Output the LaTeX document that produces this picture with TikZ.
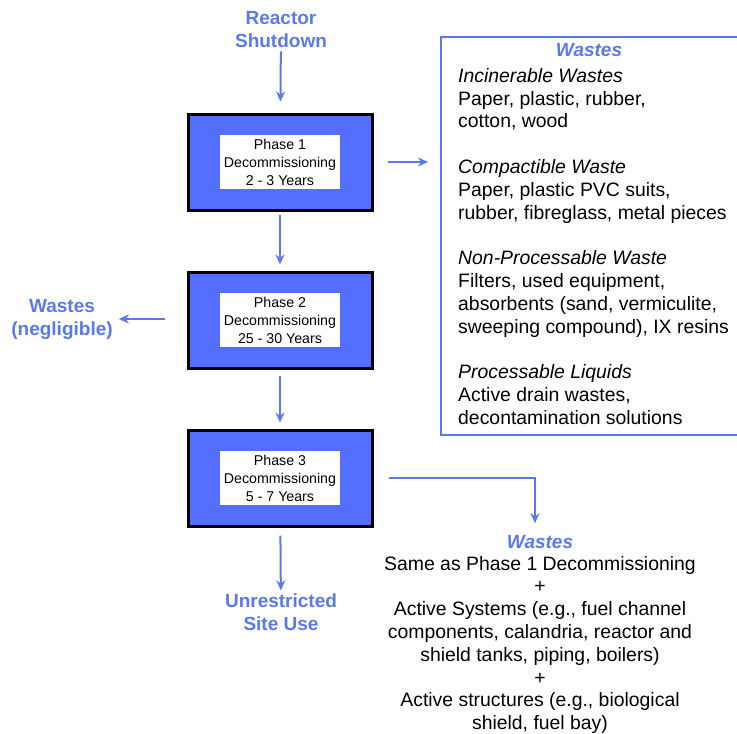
\documentclass[tikz,border=0pt]{standalone}
\usepackage{fontspec}
\setmainfont{Liberation Sans}
\usetikzlibrary{arrows.meta,positioning,calc}
\definecolor{phaseblue}{RGB}{84,110,255}
\definecolor{txtblue}{RGB}{90,120,242}
\begin{document}
\begin{tikzpicture}[x=1pt, y=-1pt,
  phase/.style={draw=black, line width=3pt, fill=phaseblue, minimum width=184pt, minimum height=96pt},
  phasetxt/.style={fill=white, minimum width=120pt, minimum height=54pt, align=center, inner sep=0pt,
    font=\fontsize{14.2}{18}\selectfont},
  lbl/.style={text=txtblue, align=center, inner sep=1pt, font=\bfseries\fontsize{19}{23}\selectfont},
  body/.style={inner sep=0pt, font=\fontsize{19.4}{22.8}\selectfont},
  arr/.style={-{Stealth[length=10pt, width=9pt]}, line width=2pt, draw=txtblue}]
\useasboundingbox (0,0) rectangle (737,734);
% main line
\node[lbl] (start) at (281,30) {Reactor\\Shutdown};
\node[phase] (p1) at (280,162) {};
\node[phasetxt] (p1t) at (p1) {Phase 1\\Decommissioning\\2 - 3 Years};
\node[phase] (p2) at (280,320) {};
\node[phasetxt] (p2t) at (p2) {Phase 2\\Decommissioning\\25 - 30 Years};
\node[phase] (p3) at (280,478) {};
\node[phasetxt] (p3t) at (p3) {Phase 3\\Decommissioning\\5 - 7 Years};
\node[lbl] (end) at (281,612) {Unrestricted\\Site Use};
\draw[arr, shorten <=2pt, shorten >=11pt] (start) -- (p1);
\draw[arr, shorten <=3pt, shorten >=6pt] (p1) -- (p2);
\draw[arr, shorten <=6pt, shorten >=6pt] (p2) -- (p3);
\draw[arr, shorten <=8pt, shorten >=2pt] (p3) -- (end);
% negligible wastes
\node[lbl] (neg) at (62,319) {Wastes\\(negligible)};
\draw[arr, shorten <=22pt, shorten >=5pt] (p2.west |- neg) -- (neg);
% phase 1 wastes
\node[draw=txtblue, line width=1.5pt, anchor=north west, minimum width=330pt, minimum height=398pt] (wbox) at (440,36) {};
\node[lbl, font=\bfseries\itshape\fontsize{19}{23}\selectfont] (wh) at (589,50) {Wastes};
\node[body, anchor=north west, align=left] (wlist) at (458,68) {%
\textit{Incinerable Wastes}\\
Paper, plastic, rubber,\\
cotton, wood\\[22.8pt]
\textit{Compactible Waste}\\
Paper, plastic PVC suits,\\
rubber, fibreglass, metal pieces\\[22.8pt]
\textit{Non-Processable Waste}\\
Filters, used equipment,\\
absorbents (sand, vermiculite,\\
sweeping compound), IX resins\\[22.8pt]
\textit{Processable Liquids}\\
Active drain wastes,\\
decontamination solutions};
\draw[arr, shorten <=14pt, shorten >=12pt] (p1.east) -- (p1 -| wbox.west);
% phase 3 wastes
\node[lbl, font=\bfseries\itshape\fontsize{19}{23}\selectfont] (bwh) at (540,542) {Wastes};
\node[body, below=6pt of bwh, align=center] (bwl) {%
Same as Phase 1 Decommissioning\\
+\\
Active Systems (e.g., fuel channel\\
components, calandria, reactor and\\
shield tanks, piping, boilers)\\
+\\
Active structures (e.g., biological\\
shield, fuel bay)};
\draw[arr, shorten <=15pt, shorten >=11pt] (p3.east) -| ([xshift=-5pt]bwh.north);
\end{tikzpicture}
\end{document}
